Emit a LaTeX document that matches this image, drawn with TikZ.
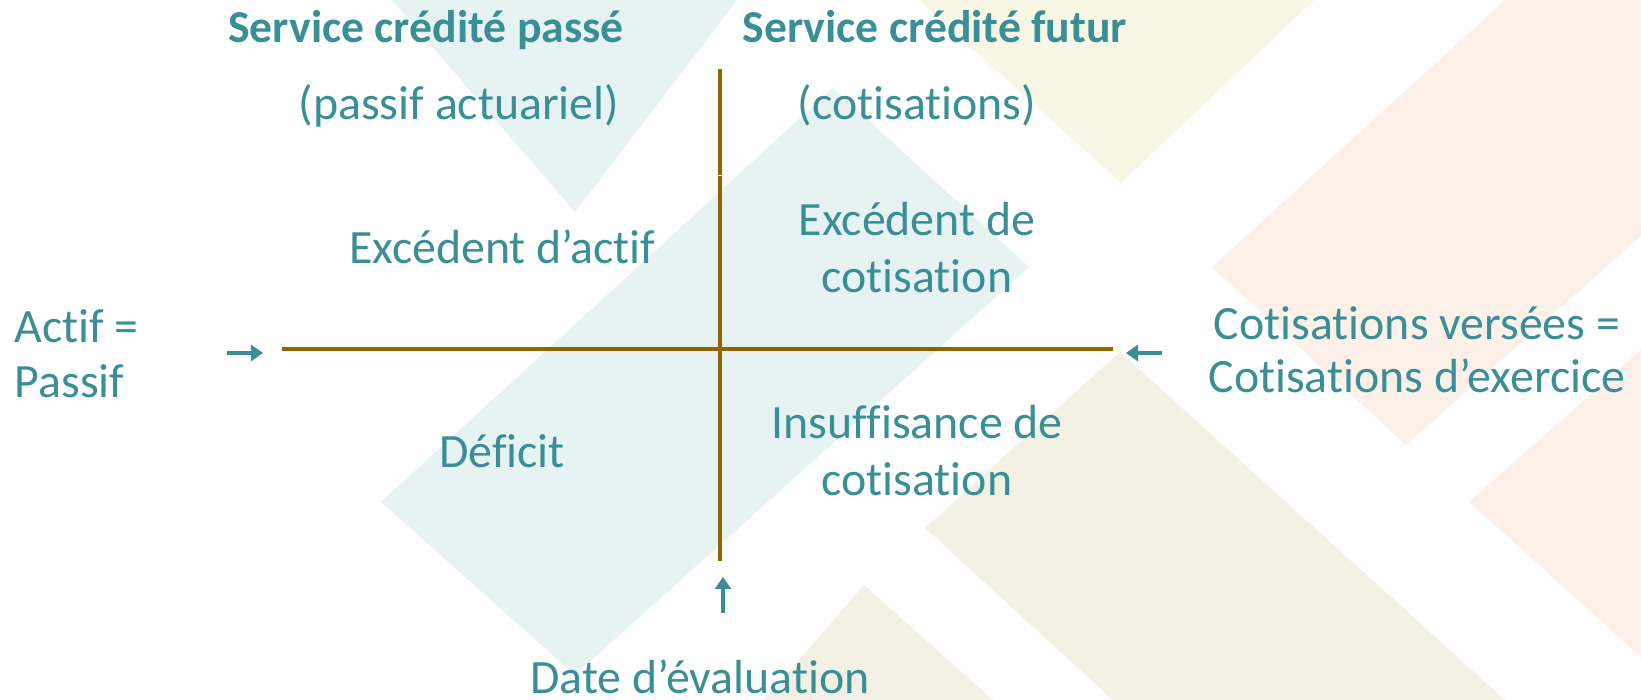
\documentclass[tikz,border=0pt]{standalone}
\usepackage{fontspec}
\setmainfont{Carlito}[Ligatures=NoCommon]
\usepackage{tikz}
\usetikzlibrary{positioning, arrows.meta}
\usepackage{xcolor}
\definecolor{PlanTeal}{RGB}{58, 143, 150}
\definecolor{PlanBrown}{RGB}{143, 101, 0}
\definecolor{PlanMist}{RGB}{231, 242, 243}
\definecolor{PlanCream}{RGB}{248, 247, 229}
\definecolor{PlanSand}{RGB}{243, 240, 228}
\definecolor{PlanPeach}{RGB}{253, 240, 233}
\colorlet{LabelText}{PlanTeal}
\colorlet{AxisStroke}{PlanBrown}
\colorlet{ArrowColor}{PlanTeal}
\tikzset{
    % Column headings (bold)
    heading/.style={
        text=LabelText,
        font=\fontsize{13}{16}\selectfont\bfseries,
        anchor=base,
        inner sep=0pt
    },
    % Quadrant and side labels (base = last line)
    quadlabel/.style={
        text=LabelText,
        font=\fontsize{13.6}{16.2}\selectfont,
        align=center,
        anchor=base,
        inner sep=0pt
    },
    % Axis lines of the cross
    axisline/.style={
        draw=AxisStroke,
        line width=1.35pt
    },
    % Small pointing arrows
    pointer/.style={
        -{Triangle[length=0.12cm, width=0.16cm]},
        line width=1.2pt,
        color=ArrowColor
    }
}

\begin{document}
\begin{tikzpicture}[x=0.01cm, y=-0.01cm]

    \useasboundingbox (0,0) rectangle (1641,700);

    % ==========================================
    % BACKGROUND SHAPES
    % ==========================================
    \fill[PlanMist] (392,0) -- (737,0) -- (575,212) -- cycle;
    \fill[PlanMist] (833,88) -- (1029,267) -- (575,675) -- (381,502) -- cycle;
    \fill[PlanCream] (919,0) -- (1314,0) -- (1121,183) -- cycle;
    \fill[PlanSand] (1120,352) -- (1505,700) -- (1113,700) -- (925,528) -- cycle;
    \fill[PlanSand] (864,585) -- (993,700) -- (764,700) -- cycle;
    \fill[PlanPeach] (1505,0) -- (1641,0) -- (1641,236) -- (1406,445) -- (1212,267) -- cycle;
    \fill[PlanPeach] (1641,350) -- (1641,657) -- (1469,502) -- cycle;

    % ==========================================
    % CROSS
    % ==========================================
    \coordinate (vtop) at (720,69);
    \coordinate (vbreak) at (720,174.5);
    \coordinate (vresume) at (720,176);
    \coordinate (vbot) at (720,561);
    \coordinate (hleft) at (282,349);
    \coordinate (hright) at (1113,349);

    \draw[axisline] (vtop) -- (vbreak);
    \draw[axisline] (vresume) -- (vbot);
    \draw[axisline] (hleft) -- (hright);

    % ==========================================
    % LABELS
    % ==========================================
    \node[heading] (pasthead) at (426,43) {Service crédité passé};
    \node[heading] (futhead) at (935,43) {Service crédité futur};
    \node[quadlabel] (pastsub) at (459,120) {(passif actuariel)};
    \node[quadlabel] (futsub) at (917,120) {(cotisations)};

    \node[quadlabel] (assetgain) at (502,263) {Excédent d’actif};
    \node[quadlabel] (contribgain) at (917,292) {Excédent de\\cotisation};
    \node[quadlabel] (deficit) at (502,467) {Déficit};
    \node[quadlabel] (contribgap) at (917,495) {Insuffisance de\\cotisation};

    \node[quadlabel, align=left, anchor=base west,
          font=\fontsize{13.6}{15.6}\selectfont] (balance) at (14,397) {Actif =\\Passif};
    \node[quadlabel, font=\fontsize{13.6}{14.8}\selectfont] (paid) at (1417,392)
        {Cotisations versées =\\Cotisations d’exercice};
    \node[quadlabel] (valdate) at (700,693) {Date d’évaluation};

    % ==========================================
    % POINTERS
    % ==========================================
    \coordinate (ltail) at (227,353);
    \coordinate (ltip) at (263,353);
    \coordinate (rtail) at (1162,353);
    \coordinate (rtip) at (1126,353);
    \coordinate (btail) at (723,613);
    \coordinate (btip) at (723,577);

    \draw[pointer] (ltail) -- (ltip);
    \draw[pointer] (rtail) -- (rtip);
    \draw[pointer] (btail) -- (btip);

\end{tikzpicture}
\end{document}
